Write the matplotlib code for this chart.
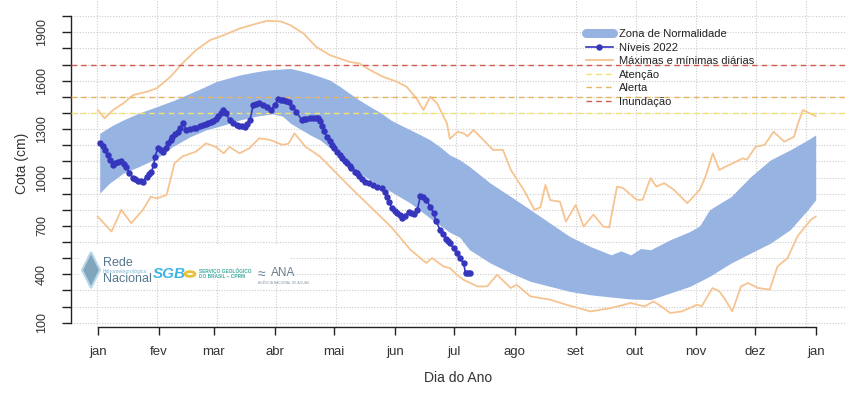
import numpy as np
import matplotlib
matplotlib.use("Agg")
import matplotlib.pyplot as plt
from matplotlib.lines import Line2D
from matplotlib.patches import Polygon, Rectangle, Circle

plt.rcParams['font.family'] = ['Liberation Sans', 'DejaVu Sans']

# ---------------- data ----------------
month_days = [1, 32, 60, 91, 121, 152, 182, 213, 244, 274, 305, 335, 366]
month_labels = ["jan", "fev", "mar", "abr", "mai", "jun", "jul", "ago",
                "set", "out", "nov", "dez", "jan"]
y_ticks = list(range(100, 2001, 100))
y_labels_shown = [100, 400, 700, 1000, 1300, 1600, 1900]

# Zona de Normalidade (upper / lower limits)
band_up_day = [2, 8, 14, 22, 31, 40, 48, 55, 61, 67, 73, 80, 87, 94, 99, 104, 109, 114,
               119, 124, 129, 134, 139.5, 145, 150, 155, 160, 165, 170, 175, 180, 185,
               190, 200.6, 211, 221, 231, 241, 251.5, 262, 267, 272, 277, 282, 292, 302,
               307, 312, 323, 333, 343, 353, 362, 366]
band_up_val = [1274, 1320, 1357, 1400, 1439, 1480, 1522, 1560, 1594, 1615, 1635, 1652,
               1666, 1672, 1676, 1662, 1645, 1625, 1604, 1565, 1522, 1480, 1439, 1400,
               1356, 1325, 1295, 1265, 1233, 1190, 1140, 1110, 1068, 965, 882, 800, 717,
               634, 572, 521, 545, 520, 560, 552, 614, 665, 700, 800, 882, 1006, 1109,
               1171, 1233, 1264]
band_lo_day = [2, 7, 14, 22, 31, 39, 48, 56, 65, 73, 82, 90, 95, 99, 104, 109, 114, 122.5,
               129, 139.5, 150, 160, 170, 180, 185, 190, 200.6, 211, 221, 231, 241, 251.5,
               262, 272, 282, 292, 302, 312, 323, 333, 343, 353, 362, 366]
band_lo_val = [903, 965, 1027, 1068, 1119, 1191, 1253, 1295, 1325, 1356, 1381, 1395, 1380,
               1336, 1300, 1264, 1233, 1150, 1068, 985, 913, 841, 748, 660, 630, 552, 470,
               408, 356, 325, 294, 273, 259, 247, 243, 284, 325, 387, 470, 532, 593, 676,
               800, 862]

# Máximas diárias
max_day = [1, 4.5, 8.7, 14, 19, 26, 31, 38, 44, 51, 58, 65, 73, 82, 87, 94, 99, 105.6,
           112, 119, 129, 134, 139.5, 146, 153, 158, 163, 166.6, 170, 173.5, 178.5, 180,
           184, 187, 189, 192, 197, 202, 207, 211, 217.6, 223, 226, 228.6, 231, 236, 239,
           244, 248, 253, 258, 261, 265, 268, 275, 278, 282, 285, 289, 294, 300.7, 307,
           310, 313.7, 317, 322, 329, 331, 335.5, 340, 344.6, 350, 353, 355, 357, 359.5,
           363, 366]
max_val = [1418, 1367, 1418, 1460, 1511, 1532, 1553, 1625, 1707, 1790, 1851, 1882, 1923,
           1955, 1971, 1968, 1944, 1893, 1810, 1759, 1717, 1707, 1666, 1625, 1594, 1563,
           1491, 1418, 1501, 1460, 1336, 1240, 1284, 1274, 1255, 1295, 1233, 1171, 1171,
           1047, 923, 800, 815, 954, 860, 850, 727, 830, 696, 770, 696, 690, 944, 935, 862,
           862, 996, 944, 965, 923, 841, 923, 1006, 1150, 1047, 1078, 1119, 1110, 1191,
           1202, 1284, 1222, 1240, 1253, 1336, 1418, 1398, 1381]

# Mínimas diárias
min_day = [1, 8, 13, 18, 24, 28, 31, 36, 40, 44, 51, 56, 61, 65, 68, 73, 78, 83, 88.6,
           95, 98, 101, 106.6, 114, 124, 129, 139.5, 150, 160, 168, 171, 176.7, 180,
           183.6, 187, 194, 199, 204, 211, 214, 221, 231, 239, 251.5, 262, 272, 279,
           283.6, 288.7, 292, 298, 305.8, 308, 313.5, 317, 320, 323.6, 328, 331.6, 336.7,
           342.6, 346.6, 351.7, 356.7, 360, 363.6, 366]
min_val = [758, 665, 800, 717, 800, 882, 870, 892, 1088, 1130, 1161, 1212, 1190, 1150,
           1190, 1150, 1180, 1243, 1233, 1202, 1210, 1274, 1191, 1130, 1006, 944, 820, 696,
           552, 470, 501, 449, 439, 397, 366, 325, 325, 397, 315, 335, 263, 243, 212, 170,
           191, 222, 201, 232, 191, 160, 170, 212, 201, 315, 295, 243, 170, 325, 346, 315,
           305, 449, 501, 634, 686, 738, 758]

# Níveis 2022
lvl_day = [2, 3.5, 4.5, 6, 7, 8.8, 10, 11.5, 13, 14.5, 15.6, 17, 19, 20, 21.5, 23, 24, 25.8,
           27, 28.3, 29.5, 30, 31.7, 33, 34, 35.5, 36.8, 38, 39, 40.5, 41.9, 43, 44.4, 46,
           48, 50, 51, 53, 54.6, 56, 57, 58.5, 59.7, 61, 62, 63.5, 64.8, 66, 68, 70, 71.6,
           73, 74.5, 75.8, 77, 78.4, 80, 81.5, 83, 85, 86.9, 89, 91, 92.8, 94, 95, 96.5,
           98, 100, 102, 104.7, 106, 107, 109, 110.6, 112, 113, 114, 115, 116, 117.4, 119,
           120, 121, 122.5, 124, 125, 126.5, 127.6, 129, 130, 131.9, 133, 134, 135.5, 137,
           139, 141, 143, 145.4, 147, 148, 149, 150.5, 152, 153, 154.5, 155.6, 157, 159,
           160.5, 162, 163.5, 165, 166.5, 168, 170, 171.7, 173, 175, 176.5, 178, 179, 180,
           182, 183.6, 185, 187, 188, 189, 190]
lvl_val = [1216, 1195, 1171, 1140, 1109, 1078, 1090, 1095, 1105, 1085, 1068, 1027, 996, 988,
           981, 978, 975, 1006, 1020, 1037, 1078, 1130, 1181, 1170, 1160, 1185, 1212, 1235,
           1253, 1268, 1284, 1310, 1336, 1295, 1300, 1305, 1310, 1318, 1325, 1330, 1335,
           1342, 1350, 1365, 1380, 1400, 1416, 1400, 1356, 1340, 1325, 1320, 1318, 1315,
           1330, 1356, 1449, 1455, 1460, 1450, 1439, 1420, 1450, 1487, 1483, 1480, 1475,
           1470, 1440, 1408, 1356, 1360, 1365, 1366, 1367, 1368, 1370, 1350, 1320, 1290,
           1253, 1225, 1200, 1180, 1161, 1140, 1120, 1100, 1088, 1070, 1060, 1037, 1025,
           1010, 990, 975, 965, 954, 944, 934, 910, 882, 850, 810, 795, 780, 765, 748, 760,
           789, 782, 775, 800, 886, 880, 862, 820, 779, 730, 676, 650, 620, 605, 593, 560,
           532, 500, 470, 405, 405, 408]

# thresholds
thr_names = ["Atenção", "Alerta", "Inundação"]
thr_vals = [1400, 1500, 1700]
thr_colors = ["#f3e36c", "#e9b560", "#d35a4e"]

# ---------------- figure ----------------
W, H = 856, 400
fig = plt.figure(figsize=(W / 100, H / 100), dpi=100)
x0, x1, ytop, ybot = 71, 845, 0, 327
ax = fig.add_axes([x0 / W, 1 - ybot / H, (x1 - x0) / W, (ybot - ytop) / H])
ax.set_xlim(-12.6, 380.9)
ax.set_ylim(73.3, 2100.4)

# grid
grid_kw = dict(color="#cccccc", lw=0.8, ls=(0, (1, 1.5)), zorder=0)
for v in y_ticks:
    ax.axhline(v, **grid_kw)
for d in list(np.linspace(0.5, 335.5, 12)) + [361]:
    ax.axvline(d, **grid_kw)

# logo background
ax.add_patch(Rectangle((0.012, 0.145), 0.27, 0.11, transform=ax.transAxes,
                       facecolor="white", edgecolor="none", zorder=1))

band_color = "#96b3e2"
orange = "#f6c491"
blue = "#3535bd"

# normal band
grid_days = np.union1d(band_up_day, band_lo_day)
up_i = np.interp(grid_days, band_up_day, band_up_val)
lo_i = np.interp(grid_days, band_lo_day, band_lo_val)
ax.fill_between(grid_days, lo_i, up_i, color=band_color, lw=0, zorder=2)

# max / min
ax.plot(max_day, max_val, color=orange, lw=1.3, zorder=3)
ax.plot(min_day, min_val, color=orange, lw=1.3, zorder=3)

# thresholds
for v, c in zip(thr_vals, thr_colors):
    ax.axhline(v, color=c, lw=1.0, ls=(0, (4, 3)), zorder=3)

# levels 2022
ax.plot(lvl_day, lvl_val, color=blue, lw=1.2, marker="o", ms=3.6, mec=blue, mfc=blue,
        zorder=4)

# axes styling (R-like detached look)
for s in ["top", "right"]:
    ax.spines[s].set_visible(False)
ax.spines["left"].set_bounds(100, 2000)
ax.spines["bottom"].set_bounds(1, 366)
for s in ["left", "bottom"]:
    ax.spines[s].set_linewidth(1.0)
    ax.spines[s].set_color("#222222")
ax.set_yticks(y_ticks)
ax.set_yticklabels([str(v) if v in y_labels_shown else "" for v in y_ticks],
                   rotation=90, va="center", fontsize=9)
ax.set_xticks(month_days)
ax.set_xticklabels(month_labels, fontsize=9.5)
ax.tick_params(axis="y", direction="out", length=6.5, width=1.0, pad=10, colors="#222222",
               labelcolor="#333333")
ax.tick_params(axis="x", direction="out", length=5.8, width=1.0, pad=8, colors="#222222",
               labelcolor="#333333")

fig.text(458 / W, 1 - 378 / H, "Dia do Ano", ha="center", va="center", fontsize=10,
         color="#333333")
fig.text(22 / W, 1 - 163 / H, "Cota (cm)", ha="center", va="center", rotation=90,
         fontsize=10, color="#333333")

# legend
handles = [
    Line2D([], [], color=band_color, lw=6.5, solid_capstyle="round"),
    Line2D([], [], color=blue, lw=1.2, marker="o", ms=3.6),
    Line2D([], [], color=orange, lw=1.3),
    Line2D([], [], color=thr_colors[0], lw=1.0, ls=(0, (4, 3))),
    Line2D([], [], color=thr_colors[1], lw=1.0, ls=(0, (4, 3))),
    Line2D([], [], color=thr_colors[2], lw=1.0, ls=(0, (4, 3))),
]
labels = ["Zona de Normalidade", "Níveis 2022", "Máximas e mínimas diárias"] + thr_names
fig.legend(handles, labels, loc="upper left", bbox_to_anchor=(586 / W, 1 - 29 / H),
           frameon=False, fontsize=8, handlelength=2.4, handletextpad=0.6,
           labelspacing=0.32, borderpad=0, borderaxespad=0, labelcolor="#222222")

# logos (approximated with text)
def fx(x):
    return x / W

def fy(y):
    return 1 - y / H

drop = Polygon([(fx(91), fy(252)), (fx(100), fy(270)), (fx(91), fy(288)), (fx(82), fy(270))],
               closed=True, transform=fig.transFigure, facecolor="#7fa6bd",
               edgecolor="#b9d6e6", lw=1.5, zorder=5)
fig.patches.append(drop)
narrow = ["Liberation Sans Narrow", "Liberation Sans", "DejaVu Sans"]
fig.text(fx(103), fy(263), "Rede", fontsize=9, color="#56788f", family=narrow,
         ha="left", va="center")
fig.text(fx(103), fy(271), "Hidrometeorológica", fontsize=3.6, color="#7bb7da",
         family=narrow, ha="left", va="center")
fig.text(fx(103), fy(279), "Nacional", fontsize=9, color="#56788f", family=narrow,
         ha="left", va="center")
fig.text(fx(153), fy(274), "SGB", fontsize=11, color="#3fb3e6", weight="bold",
         style="italic", ha="left", va="center")
fig.patches.append(Circle((fx(190), fy(274)), 5.0 / W, transform=fig.transFigure,
                          facecolor="none", edgecolor="#e7c23a", lw=2, zorder=5))
fig.text(fx(199), fy(271), "SERVIÇO GEOLÓGICO", fontsize=3.4, color="#3aa89c",
         weight="bold", ha="left", va="center")
fig.text(fx(199), fy(277), "DO BRASIL – CPRM", fontsize=3.4, color="#3aa89c",
         weight="bold", ha="left", va="center")
fig.text(fx(258), fy(274), "≈", fontsize=10, color="#5f7f9a", ha="left", va="center")
fig.text(fx(271), fy(273), "ANA", fontsize=8.5, color="#6b7b8c", ha="left", va="center")
fig.text(fx(258), fy(283), "AGÊNCIA NACIONAL DE ÁGUAS", fontsize=2.4, color="#8a9aaa",
         ha="left", va="center")

fig.savefig("out.png", dpi=100)
